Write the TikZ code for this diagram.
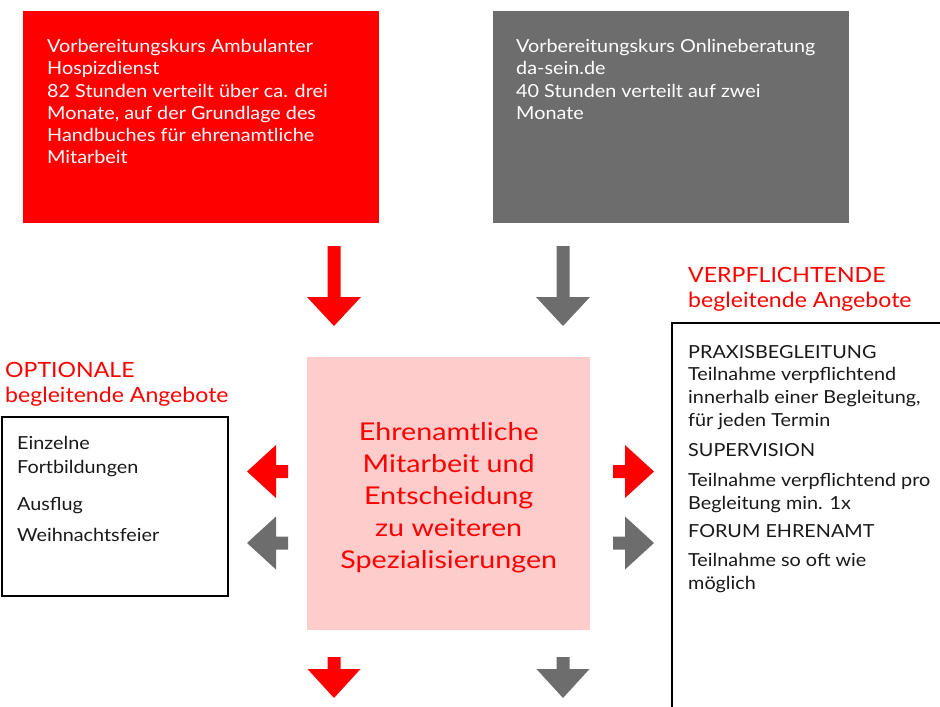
\documentclass[tikz,border=0pt]{standalone}
\usepackage{fontspec}
\setmainfont{Lato}[FakeStretch=1.1]
\newfontfamily\mittefont{Lato}[FakeStretch=1.17]
\usetikzlibrary{positioning}
\definecolor{kursrot}{HTML}{FF0000}
\definecolor{kursgrau}{HTML}{6D6D6D}
\definecolor{mitterosa}{HTML}{FFCCCC}
\tikzset{
  kursbox/.style={rectangle, minimum width=356pt, minimum height=212pt, inner sep=0pt, outer sep=0pt, anchor=north west},
  kurstext/.style={text=white, align=left, anchor=north west, inner sep=0pt, font=\fontsize{18}{22.3}\selectfont},
  listbox/.style={draw=black, line width=2.4pt, inner sep=0pt, outer sep=0pt, anchor=north west},
  listtext/.style={text=black!90, align=left, anchor=north west, inner sep=0pt, font=\fontsize{18}{22.7}\selectfont},
  titel/.style={text=kursrot, align=left, anchor=base west, inner sep=0pt, font=\fontsize{21}{25}\selectfont},
  % block arrow pointing along +x, starts at the shaft end
  langpfeil/.pic={\path[pic actions] (0,-6.5) -- (51,-6.5) -- (51,-27) -- (80,0) -- (51,27) -- (51,6.5) -- (0,6.5) -- cycle;},
  kurzpfeil/.pic={\path[pic actions] (0,-6.5) -- (12,-6.5) -- (12,-26.5) -- (41,0) -- (12,26.5) -- (12,6.5) -- (0,6.5) -- cycle;}
}
\begin{document}
\begin{tikzpicture}[x=1pt,y=-1pt]
\clip (0,0) rectangle (940,707);
\fill[white] (0,0) rectangle (940,707);

% Vorbereitungskurse
\node[kursbox, fill=kursrot] (ambulant) at (23,11) {};
\node[kurstext] (ambulanttext) at ([shift={(24,28)}]ambulant.north west) {Vorbereitungskurs Ambulanter\\Hospizdienst\\82 Stunden verteilt über ca. drei\\Monate, auf der Grundlage des\\Handbuches für ehrenamtliche\\Mitarbeit};
\node[kursbox, fill=kursgrau] (online) at (493,11) {};
\node[kurstext] (onlinetext) at ([shift={(23,28)}]online.north west) {Vorbereitungskurs Onlineberatung\\da-sein.de\\40 Stunden verteilt auf zwei\\Monate};

% Mitte
\node[fill=mitterosa, minimum width=283pt, minimum height=273pt, inner sep=0pt, anchor=north west] (mitte) at (307,357) {};
\node[text=kursrot, align=center, inner sep=0pt, font=\mittefont\fontsize{24.5}{32}\selectfont] (mittetext) at ([shift={(0,4)}]mitte.center)
  {Ehrenamtliche\\Mitarbeit und\\Entscheidung\\zu weiteren\\Spezialisierungen};

% optionale Angebote
\node[titel] (optionaltitel) at (5,402) {OPTIONALE\\begleitende Angebote};
\node[listbox, minimum width=226pt, minimum height=179pt] (optional) at (2,417) {};
\node[listtext] (optionaltext) at ([shift={(15,19)}]optional.north west) {Einzelne\\[1.5pt]Fortbildungen\\[14pt]Ausflug\\[8pt]Weihnachtsfeier};

% verpflichtende Angebote
\node[titel] (pflichttitel) at (688,307) {VERPFLICHTENDE\\begleitende Angebote};
\node[listbox, minimum width=300pt, minimum height=420pt] (pflicht) at (672,323) {};
\node[listtext] (pflichttext) at ([shift={(16,22)}]pflicht.north west) {PRAXISBEGLEITUNG\\Teilnahme verpflichtend\\innerhalb einer Begleitung,\\für jeden Termin\\[7pt]SUPERVISION\\[8pt]Teilnahme verpflichtend pro\\Begleitung min. 1x\\[5pt]FORUM EHRENAMT\\[7pt]Teilnahme so oft wie\\möglich};

% Pfeile
\pic[fill=kursrot, rotate=-90] at (334,246) {langpfeil};
\pic[fill=kursgrau, rotate=-90] at (563,246) {langpfeil};
\pic[fill=kursrot, rotate=180] at (288,471.5) {kurzpfeil};
\pic[fill=kursgrau, rotate=180] at (288,543) {kurzpfeil};
\pic[fill=kursrot] at (613,471.5) {kurzpfeil};
\pic[fill=kursgrau] at (613,543) {kurzpfeil};
\pic[fill=kursrot, rotate=-90] at (334,657) {kurzpfeil};
\pic[fill=kursgrau, rotate=-90] at (563,657) {kurzpfeil};
\end{tikzpicture}
\end{document}
